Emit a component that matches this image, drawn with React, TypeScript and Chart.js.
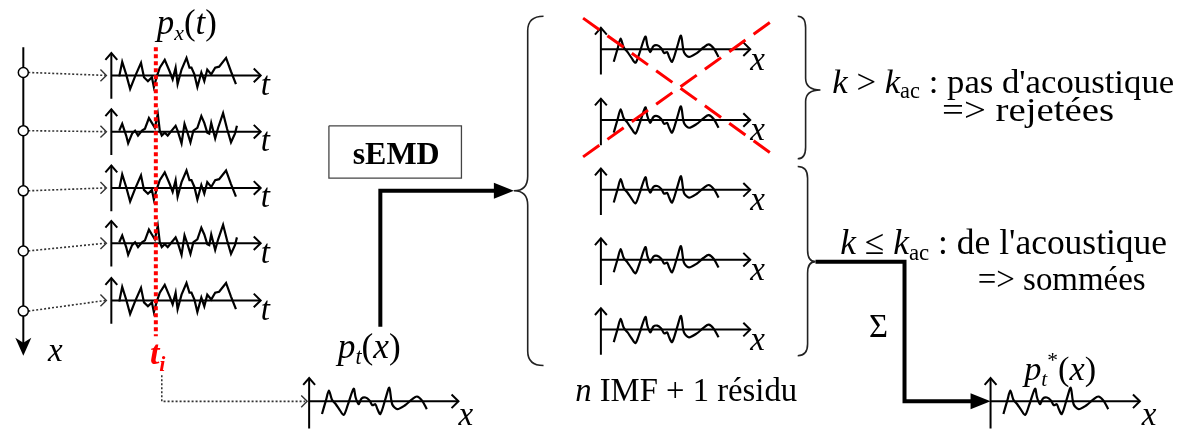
import React, { useEffect, useRef } from "react";
import { Chart, registerables } from "chart.js";

Chart.register(...registerables);

const W = 1182;
const H = 435;
const FONT = '"Liberation Serif", "Times New Roman", serif';

// ---- signal shapes (t = offset along the axis, v = amplitude, up positive) ----
const SIG_A_T = [8, 11, 15, 19, 24, 30, 33, 37, 41, 43, 46, 49, 54, 59, 62, 65, 67, 71, 76, 79, 81, 84, 87, 91, 94, 97, 101, 105, 109, 116, 121, 126];
const SIG_A_V = [-1, 14, 1, -14, -1, 13, -2, -6, -2, -12, -1, 8, 16, 4, -4, 8, -9, 6, 18, 8, 8, 1, -12, 3, -6, 6, 1, 8, 9, 18, 4, -9];
const SIG_B_T = [8, 11, 15, 17, 21, 24, 27, 31, 34, 38, 41, 44, 47, 49, 51, 54, 57, 61, 65, 67, 71, 74, 77, 80, 83, 87, 91, 94, 97, 99, 101, 105, 108, 113, 117, 121, 125, 127];
const SIG_B_V = [1, 8, -4, -12, -2, 1, -4, 1, 3, 14, 9, 4, 18, 1, -4, -1, -4, 1, 6, 1, -12, 8, -1, -11, 1, 4, 16, 9, -1, -2, 9, -7, 4, 19, 3, -11, -2, 6];
const SIG_C_T = [13, 17, 20, 23, 27, 31, 35, 39, 45, 47, 50, 53, 57, 61, 64, 67, 69, 72, 77, 81, 84, 89, 97, 104, 109, 114, 119];
const SIG_C_V = [-13, 1, 11, 2, -3, -9, -14, -4, 13, 4, -3, 3, 4, 1, -4, -3, -8, -13, 2, 14, -3, -8, -4, 2, 5, 1, -8];

// ---- layout of the diagram ----
const LEFT_ORIGIN_X = 106;
const LEFT_ROW_Y = [71, 129, 187, 244, 303];
const LEFT_ROW_SHAPE = ["A", "B", "A", "B", "A"];
const CIRCLE_X = 17;
const CIRCLE_Y = [68, 128, 190, 252, 314];
const IMF_ORIGIN_X = 601;
const IMF_ROW_Y = [44, 117, 189, 261, 333];
const PT_ORIGIN = [306, 407];
const PTSTAR_ORIGIN = [995, 407];
const AXIS_LEN = 151;

type Run = { t: string; f: string; s: number; dy?: number };
type Label = { runs: Run[]; x: number; y: number; w?: number; fit?: "size" | "stretch"; color?: string };

const LABELS: Label[] = [
  { runs: [{ t: "p", f: "italic", s: 32 }, { t: "x", f: "italic", s: 20, dy: 6 }, { t: "(", f: "normal", s: 32 }, { t: "t", f: "italic", s: 32 }, { t: ")", f: "normal", s: 32 }], x: 152, y: 28, w: 60, fit: "size" },
  ...LEFT_ROW_Y.map((y) => ({ runs: [{ t: "t", f: "italic", s: 33 }], x: 257, y: y + 20 })),
  { runs: [{ t: "x", f: "italic", s: 33 }], x: 42, y: 365 },
  { runs: [{ t: "t", f: "bold italic", s: 34 }, { t: "i", f: "bold italic", s: 22, dy: 7 }], x: 145, y: 368, color: "#ff0000" },
  { runs: [{ t: "sEMD", f: "bold", s: 31 }], x: 350, y: 162, w: 87, fit: "size" },
  { runs: [{ t: "p", f: "italic", s: 32 }, { t: "t", f: "italic", s: 20, dy: 6 }, { t: "(", f: "normal", s: 32 }, { t: "x", f: "italic", s: 32 }, { t: ")", f: "normal", s: 32 }], x: 335, y: 362, w: 63, fit: "size" },
  { runs: [{ t: "x", f: "italic", s: 33 }], x: 457, y: 431 },
  ...IMF_ROW_Y.map((y) => ({ runs: [{ t: "x", f: "italic", s: 33 }], x: 752, y: y + 21 })),
  { runs: [{ t: "n", f: "italic", s: 30 }, { t: " IMF + 1 résidu", f: "normal", s: 30 }], x: 575, y: 407, w: 222, fit: "size" },
  { runs: [{ t: "k", f: "italic", s: 31 }, { t: " > ", f: "normal", s: 31 }, { t: "k", f: "italic", s: 31 }, { t: "ac", f: "normal", s: 20, dy: 5 }, { t: " : pas d'acoustique", f: "normal", s: 31 }], x: 835, y: 89, w: 342, fit: "size" },
  { runs: [{ t: "=> rejetées", f: "normal", s: 34 }], x: 946, y: 118, w: 172, fit: "stretch" },
  { runs: [{ t: "k", f: "italic", s: 31 }, { t: " ≤ ", f: "normal", s: 31 }, { t: "k", f: "italic", s: 31 }, { t: "ac", f: "normal", s: 20, dy: 5 }, { t: " : de l'acoustique", f: "normal", s: 31 }], x: 843, y: 255, w: 327, fit: "size" },
  { runs: [{ t: "=> sommées", f: "normal", s: 31 }], x: 982, y: 292, w: 168, fit: "size" },
  { runs: [{ t: "Σ", f: "normal", s: 30 }], x: 872, y: 341, w: 19, fit: "size" },
  { runs: [{ t: "p", f: "italic", s: 32 }, { t: "t", f: "italic", s: 20, dy: 6 }, { t: "*", f: "normal", s: 20, dy: -12 }, { t: "(", f: "normal", s: 32 }, { t: "x", f: "italic", s: 32 }, { t: ")", f: "normal", s: 32 }], x: 1029, y: 385, w: 72, fit: "size" },
  { runs: [{ t: "x", f: "italic", s: 33 }], x: 1148, y: 431 },
];

const BRACES = [
  { tip: 513, mid: 527, end: 543, y0: 10, ym: 190, y1: 370, r: 15 },
  { tip: 823, mid: 808, end: 800, y0: 10, ym: 86, y1: 157, r: 12 },
  { tip: 818, mid: 810, end: 800, y0: 165, ym: 263, y1: 360, r: 12 },
];

const ARROW_TIPS = [
  { x: 513, y: 190, dir: "right" },
  { x: 995, y: 407, dir: "right" },
  { x: 17, y: 360, dir: "down" },
];

type P = { x: number; y: number };

function line(points: P[], color = "#000", width = 2, dash: number[] = [], order = 1, tension = 0) {
  return {
    type: "line" as const,
    data: points,
    borderColor: color,
    borderWidth: width,
    borderDash: dash,
    pointRadius: 0,
    showLine: true,
    fill: false,
    tension,
    order,
    borderCapStyle: "butt" as const,
    borderJoinStyle: "miter" as const,
  };
}

function sig(ox: number, oy: number, T: number[], V: number[]): P[] {
  return T.map((t, i) => ({ x: ox + t, y: oy - V[i] }));
}

function chevronRight(x: number, y: number, s = 7): P[] {
  return [{ x: x - s, y: y - s }, { x, y }, { x: x - s, y: y + s }];
}
function chevronUp(x: number, y: number, s = 6): P[] {
  return [{ x: x - s, y: y + s + 1 }, { x, y }, { x: x + s, y: y + s + 1 }];
}

function signalPanel(ox: number, oy: number, T: number[], V: number[], up: number, down: number, smooth: boolean, lw = 2) {
  return [
    line([{ x: ox, y: oy - up }, { x: ox, y: oy + down }], "#000", lw),
    line(chevronUp(ox, oy - up), "#000", lw),
    line([{ x: ox, y: oy }, { x: ox + AXIS_LEN, y: oy }], "#000", lw),
    line(chevronRight(ox + AXIS_LEN, oy), "#000", lw),
    line(sig(ox, oy, T, V), "#000", 2.2, [], 1, smooth ? 0.3 : 0),
  ];
}

function buildDatasets() {
  const ds: any[] = [];
  ds.push(line([{ x: CIRCLE_X, y: 42 }, { x: CIRCLE_X, y: 350 }], "#000", 2));
  CIRCLE_Y.forEach((cy, i) => {
    const ay = LEFT_ROW_Y[i];
    ds.push(line([{ x: CIRCLE_X + 5, y: cy }, { x: LEFT_ORIGIN_X - 6, y: ay }], "#333", 1.6, [2, 2]));
    ds.push(line(chevronRight(LEFT_ORIGIN_X - 5, ay, 6), "#333", 1.4));
  });
  ds.push({
    type: "scatter",
    data: CIRCLE_Y.map((y) => ({ x: CIRCLE_X, y })),
    pointRadius: 5,
    pointBackgroundColor: "#fff",
    pointBorderColor: "#000",
    pointBorderWidth: 1.5,
    showLine: false,
    order: 0,
  });
  LEFT_ROW_Y.forEach((y, i) => {
    const A = LEFT_ROW_SHAPE[i] === "A";
    ds.push(...signalPanel(LEFT_ORIGIN_X, y, A ? SIG_A_T : SIG_B_T, A ? SIG_A_V : SIG_B_V, 23, 24, false));
  });
  ds.push(line([{ x: 151, y: 42 }, { x: 151, y: 340 }], "#ff0000", 4, [4, 3], 0));
  ds.push(line([{ x: 157, y: 380 }, { x: 157, y: 407 }, { x: PT_ORIGIN[0] - 4, y: 407 }], "#333", 1.6, [2, 2]));
  ds.push(line(chevronRight(PT_ORIGIN[0] - 2, 407, 6), "#333", 1.4));
  ds.push(...signalPanel(PT_ORIGIN[0], PT_ORIGIN[1], SIG_C_T, SIG_C_V, 24, 40, true));
  ds.push(line([{ x: 326, y: 123 }, { x: 460, y: 123 }, { x: 460, y: 177 }, { x: 326, y: 177 }, { x: 326, y: 123 }], "#444", 1.3));
  ds.push(line([{ x: 378, y: 330 }, { x: 378, y: 190 }, { x: 497, y: 190 }], "#000", 4));
  IMF_ROW_Y.forEach((y) => ds.push(...signalPanel(IMF_ORIGIN_X, y, SIG_C_T, SIG_C_V, 22, 26, true)));
  ds.push(line([{ x: 583, y: 12 }, { x: 778, y: 155 }], "#ff0000", 3, [20, 10], 0));
  ds.push(line([{ x: 583, y: 155 }, { x: 778, y: 12 }], "#ff0000", 3, [20, 10], 0));
  ds.push(line([{ x: 818, y: 263 }, { x: 908, y: 263 }, { x: 908, y: 407 }, { x: 979, y: 407 }], "#000", 4));
  ds.push(...signalPanel(PTSTAR_ORIGIN[0], PTSTAR_ORIGIN[1], SIG_C_T, SIG_C_V, 24, 40, true));
  return ds;
}

const overlay = {
  id: "overlay",
  afterDatasetsDraw(chart: any) {
    const ctx: CanvasRenderingContext2D = chart.ctx;
    const X = (v: number) => chart.scales.x.getPixelForValue(v);
    const Y = (v: number) => chart.scales.y.getPixelForValue(v);
    ctx.save();
    ctx.strokeStyle = "#222";
    ctx.lineWidth = 1.6;
    BRACES.forEach((b) => {
      ctx.beginPath();
      ctx.moveTo(X(b.end), Y(b.y0));
      ctx.quadraticCurveTo(X(b.mid), Y(b.y0), X(b.mid), Y(b.y0 + b.r));
      ctx.lineTo(X(b.mid), Y(b.ym - b.r));
      ctx.quadraticCurveTo(X(b.mid), Y(b.ym), X(b.tip), Y(b.ym));
      ctx.quadraticCurveTo(X(b.mid), Y(b.ym), X(b.mid), Y(b.ym + b.r));
      ctx.lineTo(X(b.mid), Y(b.y1 - b.r));
      ctx.quadraticCurveTo(X(b.mid), Y(b.y1), X(b.end), Y(b.y1));
      ctx.stroke();
    });
    ctx.fillStyle = "#000";
    ARROW_TIPS.forEach((a) => {
      const x = X(a.x), y = Y(a.y);
      ctx.beginPath();
      if (a.dir === "right") {
        ctx.moveTo(x, y);
        ctx.lineTo(x - 20, y - 8);
        ctx.lineTo(x - 20, y + 8);
      } else {
        ctx.moveTo(x, y);
        ctx.lineTo(x - 8, y - 18);
        ctx.lineTo(x, y - 13);
        ctx.lineTo(x + 8, y - 18);
      }
      ctx.closePath();
      ctx.fill();
    });
    LABELS.forEach((lb) => {
      const measure = (k: number) =>
        lb.runs.map((r) => {
          ctx.font = `${r.f} ${r.s * k}px ${FONT}`;
          return ctx.measureText(r.t).width;
        });
      let k = 1;
      let widths = measure(1);
      const total = widths.reduce((a, b) => a + b, 0);
      let sx = 1;
      if (lb.w && lb.fit === "size") {
        k = lb.w / total;
        widths = measure(k);
      } else if (lb.w && lb.fit === "stretch") {
        sx = lb.w / total;
      }
      ctx.save();
      ctx.translate(X(lb.x), Y(lb.y));
      ctx.scale(sx, 1);
      ctx.fillStyle = lb.color || "#000";
      ctx.textBaseline = "alphabetic";
      ctx.textAlign = "left";
      let cx = 0;
      lb.runs.forEach((r, i) => {
        ctx.font = `${r.f} ${r.s * k}px ${FONT}`;
        ctx.fillText(r.t, cx, (r.dy || 0) * k);
        cx += widths[i];
      });
      ctx.restore();
    });
    ctx.restore();
  },
};

export default function App() {
  const ref = useRef<HTMLCanvasElement>(null);
  useEffect(() => {
    if (!ref.current) return;
    const chart = new Chart(ref.current, {
      type: "scatter",
      data: { datasets: buildDatasets() },
      options: {
        animation: false,
        responsive: false,
        devicePixelRatio: 1,
        layout: { padding: 0 },
        events: [],
        scales: {
          x: { type: "linear", min: 0, max: W, display: false },
          y: { type: "linear", min: 0, max: H, reverse: true, display: false },
        },
        plugins: { legend: { display: false }, tooltip: { enabled: false } },
      },
      plugins: [overlay],
    } as any);
    return () => chart.destroy();
  }, []);
  return (
    <div style={{ position: "fixed", left: 0, top: 0, width: W, height: H, background: "#fff" }}>
      <canvas ref={ref} width={W} height={H} style={{ display: "block", width: W, height: H }} />
    </div>
  );
}
